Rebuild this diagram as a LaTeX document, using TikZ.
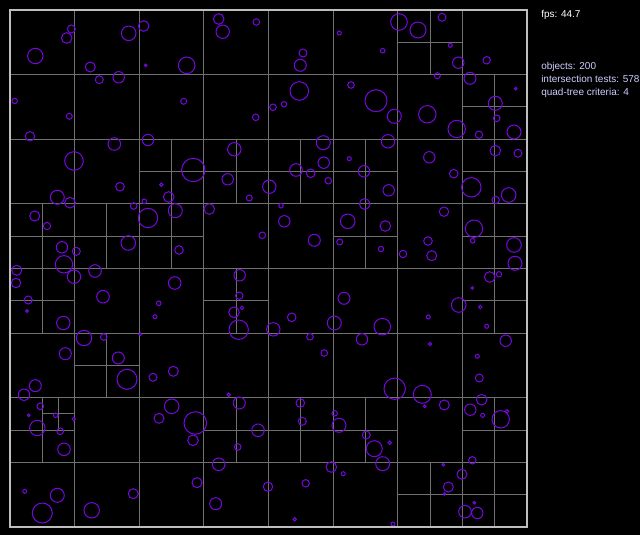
\documentclass[tikz,border=0pt]{standalone}
\usepackage{fontspec}
\setmainfont{Liberation Sans}
\definecolor{circcol}{RGB}{118,8,222}
\definecolor{gridcol}{RGB}{112,112,112}
\definecolor{bordercol}{RGB}{190,190,190}
\definecolor{statcol}{RGB}{205,205,255}
\tikzset{
  gridline/.style={draw=gridcol,line width=0.75pt},
  borderline/.style={draw=bordercol,line width=0.9pt},
  circ/.style={draw=circcol,line width=0.75pt},
  stat/.style={anchor=base west,inner sep=0pt,font=\fontsize{7.5pt}{9pt}\selectfont,text=statcol},
}
\newcommand{\qsplit}[2]{%
  \draw[gridline] ({10+64.625*(#1+0.5)},{10+64.625*#2}) -- ++(0,64.625);
  \draw[gridline] ({10+64.625*#1},{10+64.625*(#2+0.5)}) -- ++(64.625,0);}
\begin{document}
\begin{tikzpicture}[x=0.75pt,y=-0.75pt]
\fill[black] (0,0) rectangle (640,535);
\useasboundingbox (0,0) rectangle (640,535);
% level 1-3 grid
\foreach \k in {1,...,7}{
  \draw[gridline] ({10+64.625*\k},10) -- ({10+64.625*\k},527);
  \draw[gridline] (10,{10+64.625*\k}) -- (527,{10+64.625*\k});
}
% level 4 splits
\foreach \i/\j in {6/0,7/1,2/2,3/2,4/2,5/2,7/2,0/3,1/3,2/3,5/3,7/3,0/4,3/4,7/4,1/5,0/6,3/6,4/6,5/6,7/6,6/7,7/7}{
  \qsplit{\i}{\j}
}
% level 5 split
\draw[gridline] (58.47,397.75) -- ++(0,32.31);
\draw[gridline] (42.31,413.91) -- ++(32.31,0);
% circles
\foreach \x/\y/\r in {
71.3/29/4, 66.7/38/5.3, 35.3/56/7.7, 128.7/33.3/7.3, 143.7/26/5.3, 90.3/67/5, 145.7/65.3/1.3,
99.3/79.7/4, 118.7/77.3/5.7, 14.7/101/2.7, 69.3/116.3/3, 30/136.3/4.7, 114.3/144/6.3, 148/140/5.7, 74/161/9.3,
218.7/19/5.3, 222.7/31.7/6.7, 256.3/22/3.3, 339.3/33/2, 303/53/4, 300.3/65.3/6, 186.7/65.3/8.3,
299.3/91/9.3, 183.7/101.3/3, 273/107.3/3.3, 284/104.3/2.7, 255.7/117.3/3.3, 351/85/3.3, 323.3/142.7/7,
349.3/158.7/2, 323.7/162.7/5.7, 234.3/149.3/6.7, 193.3/170/11.7, 227.7/179.3/5.7, 296/170/6.3,
310.7/173.3/4.3, 328.3/180.7/3.3,
399/22/8.3, 418/30/8, 442/17.3/4, 382.7/50.7/2.3, 450.3/45.3/2, 458.3/62.7/5.7, 486.7/60.3/3.7,
437.3/75.7/3, 470/78.3/6, 515.7/88.7/1.3, 376/100.7/11, 394.3/116.3/7, 427.3/114.3/8.7, 495.3/103.3/7,
496.7/118.3/3.3, 456.7/129/8.7, 479/134.7/3.7, 514/132/7, 388/141.3/6.7, 429.3/157.3/5.7,
495.3/150.7/5.3, 518/153.3/4, 453.7/173.7/4.3, 364/171.3/5.7,
120/186.7/4.3, 161.3/184.7/1.7, 57.3/197.3/7, 70/202.7/5.3, 34.7/216/5, 47/226/3.7, 133.7/206/3.3,
144.3/201.3/2.3, 168.7/197/5.3, 175.3/210.7/7, 148/218/9.7, 62/247.3/5.7, 76.3/251.3/4, 64/264.3/8.7,
128.3/243/7.3, 179/250/4.3, 16.7/270.3/5, 16/283/4.7, 74/276.7/6.7, 95/271/6.3, 28.3/300/4,
27/311/1.3, 103/296.7/6.3, 174.7/283/6.3, 158.7/303.3/2.3, 155/316.7/2, 63.3/323/6.7,
140.3/334.3/1.3, 84/338/7.7, 103.7/337/3.3,
269.3/186.7/6.7, 249.3/198/3, 209.3/209/5.3, 281/205.7/2.3, 284.3/221.3/5.7, 262.3/235.3/3.3,
314.3/240.3/6, 347.7/221.3/7.3, 339.7/242/3, 239.7/275.3/5.7, 239.3/295.7/3.7, 242/307.7/1.7,
234/312.3/5.3, 238.7/329.7/9.7, 273.3/329.3/6.7, 291.7/317.3/4.3, 344/298.3/6, 334.3/323/7,
310/336.7/3.3, 324.3/353/3.3,
388.7/190.3/5.7, 471.3/187.3/9.7, 508.7/195/7.3, 495.7/200/3.7, 364.7/204/5.3, 385.3/226/5.3,
444/211.7/4.7, 474/228.7/8.7, 472.7/240.7/2.3, 514/245/7.3, 515/263.3/7, 381/249/2.7, 403/254/3.7,
428/241/4.3, 431.7/255.7/5, 489.7/277/5.3, 499/274.3/2.7, 472.3/288/1.3, 458.7/305/7.3,
480.3/307/1.7, 428.3/317/2, 486.7/326.3/2, 382.3/326.7/8.3, 362/339.3/5.7, 430/344/1.7, 505.7/340.7/5.7,
65.3/353.7/6, 118.3/358/6, 127/379.3/10, 153/377.3/4, 173.3/371.3/5, 35.3/385.7/6, 24/394.7/5.7,
40.3/406.3/3.3, 28.7/415.3/1.3, 55.7/415.3/2.3, 73.7/419/1.7, 37.3/428/7.7, 60.3/431.3/3.3,
64/449.3/6.3, 171.7/406.3/7.3, 159/418.3/5, 24.7/491.3/2, 57.3/495.3/7, 42.3/513/10, 91.7/510.3/7.7,
133.3/493.7/5,
228.7/394.7/1.7, 239.3/403/6, 195.3/423/11.3, 193/440.3/5.3, 258/430.3/6.3, 237.7/447/3.3,
300.3/403/4.3, 302.3/421.3/4, 334.7/413.3/2.7, 339/425.3/7, 218.7/464.3/6.3, 197/482.7/5,
215.7/503.7/6, 268/486.7/4.7, 305.7/483.3/3.7, 331.3/467/5.3, 343.3/473.7/2, 294.7/519.3/1.7,
477.3/356.3/2, 479.3/378/4, 394.7/388.7/10.7, 422.3/394.3/9, 424.7/406.3/1.3, 444.3/405/5,
481.7/399.7/5.3, 470.3/409.7/5.7, 482.7/415.3/2, 500.7/419.3/8.7, 507/411.3/1.7, 366.3/435/4,
374.3/448.7/8, 382.7/463.7/7, 389.7/442.7/1.7, 472.3/460.3/3.7, 462/474.3/5, 443.3/464.7/1.3,
448.3/487/5, 444.3/494/1.3, 474.3/502.7/1.3, 465/511.7/6.3, 477.3/513/5.7, 393/524/2}{
  \draw[circ] (\x,\y) circle[radius=\r];
}
% outer border
\draw[borderline] (10,10) rectangle (527,527);
% texts
\node[stat,text=white] (fps) at (541,17.5) {fps: 44.7};
\node[stat] (objs) at (541,69.5) {objects: 200};
\node[stat] (tests) at (541,82.5) {intersection tests: 578};
\node[stat] (crit) at (541,95.5) {quad-tree criteria: 4};
\end{tikzpicture}
\end{document}
